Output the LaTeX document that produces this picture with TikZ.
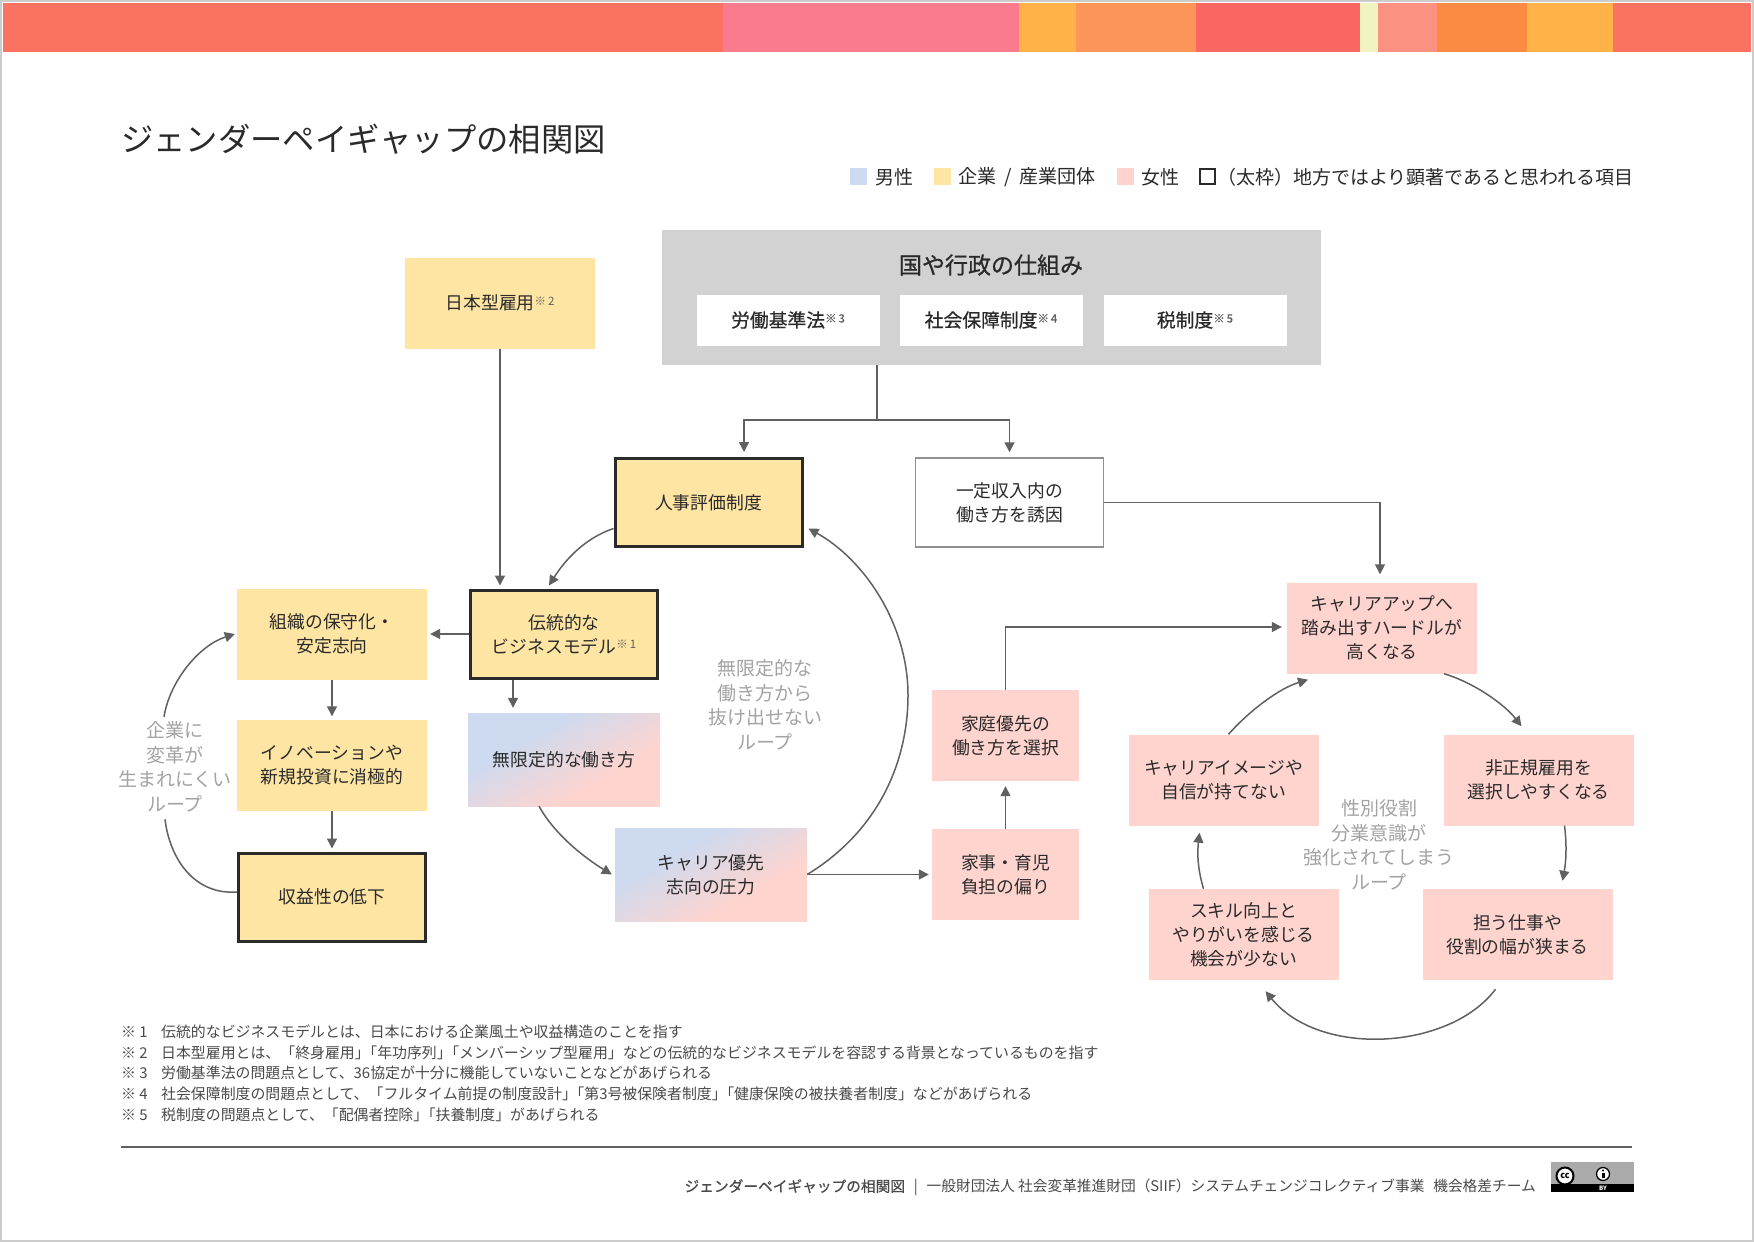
\documentclass[tikz,border=0pt]{standalone}
\usepackage{fontspec}
\setmainfont{Noto Sans CJK JP}
\newfontfamily\jpmed{Noto Sans CJK JP}[FakeBold=0.7]
\usetikzlibrary{arrows.meta,calc}
\definecolor{ink}{HTML}{2A2A2A}
\definecolor{ln}{HTML}{606060}
\definecolor{yel}{HTML}{FEE5A3}
\definecolor{pnk}{HTML}{FFD4CE}
\definecolor{blu}{HTML}{CDDAF0}
\definecolor{gry}{HTML}{D2D2D2}
\definecolor{lab}{HTML}{A3A3A3}
\pgfdeclareverticalshading{diagblend}{100bp}{color(0bp)=(pnk); color(35bp)=(pnk); color(65bp)=(blu); color(100bp)=(blu)}
\newcommand{\fs}[2]{\fontsize{#1}{#2}\selectfont}
\newcommand{\nt}[1]{{\color{ln}\raisebox{0.45ex}{\fs{11.5}{12}※\,#1}}}
\newcommand{\brk}{\hspace{-0.5em}}
\tikzset{
 x=1pt,y=-1pt,
 box/.style={rectangle,inner sep=0pt,align=center,text=ink,font=\fs{17.8}{24},minimum width=190pt,minimum height=91pt},
 ybox/.style={box,fill=yel},
 pbox/.style={box,fill=pnk},
 tbox/.style={box,fill=yel,draw=ink,line width=3pt,minimum width=187pt,minimum height=88pt},
 gbox/.style={box,shade,shading=diagblend,shading angle=30,minimum width=192pt,minimum height=93pt},
 wbox/.style={box,fill=white,minimum width=183pt,minimum height=51pt,font=\jpmed\fs{18.8}{24}},
 looplab/.style={align=center,text=lab,inner sep=0pt,font=\fs{19}{24.5}},
 txt/.style={anchor=west,inner sep=0pt,text=ink},
 foot/.style={anchor=west,inner sep=0pt,text=ink!85,font=\fs{14.9}{18}},
 arr/.style={draw=ln,line width=1.5pt,-{Triangle[length=10pt,width=10pt]}},
 plain/.style={draw=ln,line width=1.5pt},
 sw/.style={inner sep=0pt,minimum width=17pt,minimum height=17pt}
}
\begin{document}
\begin{tikzpicture}
\useasboundingbox (0,0) rectangle (1754,1242);
\fill[white] (0,0) rectangle (1754,1242);
% top band
\fill[fill={rgb,255:red,249;green,114;blue,98}] (3,3) rectangle (723,52);
\fill[fill={rgb,255:red,251;green,123;blue,142}] (723,3) rectangle (1019,52);
\fill[fill={rgb,255:red,255;green,178;blue,72}] (1019,3) rectangle (1076,52);
\fill[fill={rgb,255:red,252;green,149;blue,89}] (1076,3) rectangle (1196,52);
\fill[fill={rgb,255:red,250;green,102;blue,97}] (1196,3) rectangle (1360,52);
\fill[fill={rgb,255:red,241;green,244;blue,192}] (1360,3) rectangle (1378,52);
\fill[fill={rgb,255:red,251;green,145;blue,129}] (1378,3) rectangle (1437,52);
\fill[fill={rgb,255:red,251;green,138;blue,66}] (1437,3) rectangle (1527,52);
\fill[fill={rgb,255:red,255;green,178;blue,72}] (1527,3) rectangle (1613,52);
\fill[fill={rgb,255:red,249;green,114;blue,98}] (1613,3) rectangle (1751,52);
\draw[line width=2.5pt,color={rgb,255:red,204;green,204;blue,204}] (1,1) rectangle (1753,1241);
% title
\node[txt,font=\fs{32.3}{36}] (title) at (121,139.5) {ジェンダーペイギャップの相関図};
% legend
\node[sw,fill=blu] (s1) at (858,176.5) {};
\node[txt,font=\fs{19}{22}] (l1) at (875,177) {男性};
\node[sw,fill=yel] (s2) at (942,176.5) {};
\node[txt,font=\fs{19}{22}] (l2) at (958,177) {企業\hspace{0.43em}/\hspace{0.43em}産業団体};
\node[sw,fill=pnk] (s3) at (1125,176.5) {};
\node[txt,font=\fs{19}{22}] (l3) at (1141,177) {女性};
\node[sw,draw=ink,line width=2pt,minimum width=15pt,minimum height=15pt] (s4) at (1207,176.5) {};
\node[txt,anchor=east,font=\fs{19}{22}] (l4) at (1634,177) {（太枠）地方ではより顕著であると思われる項目};
% boxes
\node[box,fill=gry,minimum width=659pt,minimum height=135pt] (gov) at (991.5,297.5) {};
\node[inner sep=0pt,text=ink,font=\jpmed\fs{23}{26}] (govt) at (991,265) {国や行政の仕組み};
\node[wbox] (w1) at (788,320) {労働基準法\nt{3}};
\node[wbox] (w2) at (991,320) {社会保障制度\nt{4}};
\node[wbox] (w3) at (1195,320) {税制度\nt{5}};
\node[ybox] (jp) at (500,303) {日本型雇用\nt{2}};
\node[tbox] (hr) at (708.5,502.5) {人事評価制度};
\node[box,fill=white,draw=ln!70,line width=1.5pt,minimum width=188pt,minimum height=89pt] (inc) at (1009.5,502.5) {一定収入内の\\働き方を誘因};
\node[tbox] (biz) at (564,634) {伝統的な\\ビジネスモデル\nt{1}};
\node[ybox] (org) at (332,634) {組織の保守化・\\安定志向};
\node[ybox] (ino) at (332,765) {イノベーションや\\新規投資に消極的};
\node[tbox] (pro) at (332,897) {収益性の低下};
\node[gbox] (unl) at (564,759.5) {無限定的な働き方};
\node[gbox] (car) at (711,874.5) {キャリア優先\\志向の圧力};
\node[pbox,minimum width=147pt] (hw) at (1005.5,874.5) {家事・育児\\負担の偏り};
\node[pbox,minimum width=147pt] (fam) at (1005.5,735.5) {家庭優先の\\働き方を選択};
\node[pbox] (up) at (1382,628) {キャリアアップへ\\踏み出すハードルが\\高くなる};
\node[pbox] (nr) at (1538.5,780) {非正規雇用を\\選択しやすくなる};
\node[pbox] (im) at (1223.5,780) {キャリアイメージや\\自信が持てない};
\node[pbox] (job) at (1517.5,934.5) {担う仕事や\\役割の幅が狭まる};
\node[pbox] (sk) at (1243.5,934.5) {スキル向上と\\やりがいを感じる\\機会が少ない};
% loop labels
\node[looplab] (la) at (765,705) {無限定的な\\働き方から\\抜け出せない\\ループ};
\node[looplab] (lb) at (175,767) {企業に\\変革が\\生まれにくい\\ループ};
\node[looplab] (lc) at (1379,845) {性別役割\\分業意識が\\強化されてしまう\\ループ};
% connectors
\coordinate (fork) at (877,420);
\draw[plain] ([xshift=-114.5pt]gov.south) -- (fork);
\draw[arr] (fork) -| ([xshift=35.5pt,yshift=5pt]hr.north);
\draw[arr] (fork) -| ([yshift=5pt]inc.north);
\draw[arr] (jp.south) -- ([xshift=-64pt,yshift=3pt]biz.north);
\draw[arr] (inc.east) -| ([xshift=-2pt,yshift=8pt]up.north);
\draw[arr] ([yshift=-26pt]hr.west) .. controls (585,538) and (565,560) .. ([xshift=-15pt,yshift=3pt]biz.north);
\draw[arr] (biz.west) -- ([xshift=3pt]org.east);
\draw[arr] ([xshift=-51pt]biz.south) -- ([xshift=-51pt,yshift=5pt]unl.north);
\draw[arr] (org.south) -- ([yshift=3pt]ino.north);
\draw[arr] (ino.south) -- ([yshift=3pt]pro.north);
\draw[arr] ([xshift=-25pt]unl.south) .. controls (555,835) and (585,858) .. ([xshift=-3pt]car.west);
\draw[arr] (car.east) .. controls (880,830) and (908,760) .. (908,695) .. controls (908,625) and (865,560) .. ([yshift=-26pt,xshift=5pt]hr.east);
\draw[arr] (car.east) -- ([xshift=-3pt]hw.west);
\draw[arr] (hw.north) -- ([yshift=-5pt]fam.south);
\draw[arr] (fam.north) |- ([xshift=-5pt,yshift=1pt]up.west);
\draw[plain] ([yshift=5pt]pro.west) .. controls (195,895) and (170,860) .. ([xshift=-10pt,yshift=-7pt]lb.south);
\draw[arr] ([xshift=-11pt,yshift=5pt]lb.north) .. controls (170,680) and (200,645) .. ([xshift=-2pt]org.west);
\draw[arr] ([xshift=62pt]up.south) .. controls (1475,683) and (1505,705) .. ([xshift=-17pt,yshift=8pt]nr.north);
\draw[arr] ([xshift=26pt]nr.south) .. controls (1567,845) and (1566,862) .. ([xshift=45pt,yshift=8pt]job.north);
\draw[arr] ([xshift=-22pt,yshift=-9pt]job.south) .. controls (1450,1050) and (1320,1058) .. ([xshift=22pt,yshift=-11pt]sk.south);
\draw[arr] ([xshift=-40pt]sk.north) .. controls (1198,870) and (1197,855) .. ([xshift=-24pt,yshift=-7pt]im.south);
\draw[arr] ([xshift=5pt]im.north) .. controls (1250,710) and (1280,688) .. ([xshift=-74pt,yshift=-6pt]up.south);
% notes
\node[foot] (f1) at (121,1031.5) {\makebox[40pt][l]{※ 1}伝統的なビジネスモデルとは、日本における企業風土や収益構造のことを指す};
\node[foot] (f2) at (121,1052.5) {\makebox[40pt][l]{※ 2}日本型雇用とは、「終身雇用」\brk「年功序列」\brk「メンバーシップ型雇用」などの伝統的なビジネスモデルを容認する背景となっているものを指す};
\node[foot] (f3) at (121,1073) {\makebox[40pt][l]{※ 3}労働基準法の問題点として、36協定が十分に機能していないことなどがあげられる};
\node[foot] (f4) at (121,1093.5) {\makebox[40pt][l]{※ 4}社会保障制度の問題点として、「フルタイム前提の制度設計」\brk「第3号被保険者制度」\brk「健康保険の被扶養者制度」などがあげられる};
\node[foot] (f5) at (121,1114.5) {\makebox[40pt][l]{※ 5}税制度の問題点として、「配偶者控除」\brk「扶養制度」があげられる};
\coordinate (rl) at (121,1147);
\coordinate (rr) at (1632,1147);
\draw[plain] (rl) -- (rr);
\node[foot,anchor=east,font=\fs{14.7}{18}] (ft) at (1536,1187.5) {{\jpmed ジェンダーペイギャップの相関図}\hspace{0.6em}|\hspace{0.6em}一般財団法人 社会変革推進財団（SIIF）システムチェンジコレクティブ事業\hspace{0.6em}機会格差チーム};
% CC badge
\fill[color={rgb,255:red,170;green,170;blue,170}] (1551,1162) rectangle (1634,1192);
\fill[black] (1551,1184) rectangle (1634,1192);
\filldraw[fill=white,draw=black,line width=2pt] (1565,1176) circle (8.5);
\node[inner sep=0pt,font=\bfseries\fs{9}{9},text=black] (cc) at (1565,1176) {cc};
\filldraw[fill=white,draw=black,line width=1.3pt] (1603,1174) circle (6.5);
\fill[black] (1603,1170.5) circle (1.2);
\fill[black] (1601.5,1172.5) rectangle (1604.5,1178);
\node[inner sep=0pt,font=\bfseries\fs{6}{6},text=white] (by) at (1603,1188) {BY};
\end{tikzpicture}
\end{document}
